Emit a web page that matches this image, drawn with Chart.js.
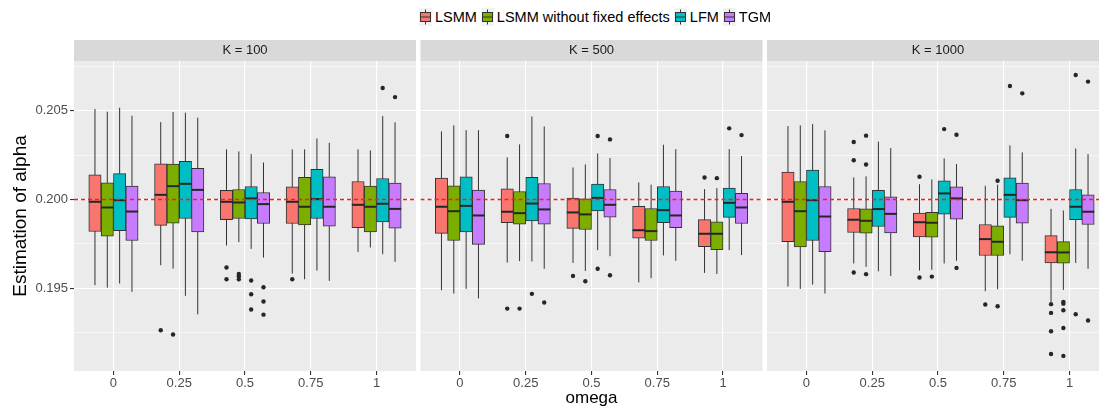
<!DOCTYPE html>
<html>
<head>
<meta charset="utf-8">
<script src="https://cdn.jsdelivr.net/npm/chart.js@4.4.1/dist/chart.umd.min.js"></script>
<style>
  html, body { margin: 0; padding: 0; width: 1099px; height: 409px; overflow: hidden; background: #ffffff;
    font-family: "Liberation Sans", Arial, sans-serif; }
  .panel { position: absolute; left: 0; top: 0; width: 1120px; height: 409px; }
  #legend { position: absolute; left: 0; top: 7px; width: 1190px; height: 19px; display: flex;
    justify-content: center; align-items: center; font-size: 14.5px; color: #000; white-space: nowrap; }
  #legend .item { display: flex; align-items: center; margin: 0 2px; }
  #legend canvas { margin-right: 3px; }
</style>
</head>
<body>
<div id="legend"></div>
<div class="panel"><canvas id="c0" width="1120" height="409"></canvas></div>
<div class="panel"><canvas id="c1" width="1120" height="409"></canvas></div>
<div class="panel"><canvas id="c2" width="1120" height="409"></canvas></div>
<script>
// ---- data -------------------------------------------------------------
const omegaLabels = ['0', '0.25', '0.5', '0.75', '1'];
const methods = ['LSMM', 'LSMM without fixed effects', 'LFM', 'TGM'];
const methodColors = ['#F8766D', '#7CAE00', '#00BFC4', '#C77CFF'];
const panelTitles = ['K = 100', 'K = 500', 'K = 1000'];
const yGrid = [0.1925, 0.195, 0.1975, 0.2, 0.2025, 0.205, 0.2075];
const yLabelled = [0.195, 0.2, 0.205];
const trueAlpha = 0.2;

// box summaries per omega: [lower whisker, Q1, median, Q3, upper whisker]
const k100LSMM   = [[0.19518,0.19820,0.19987,0.20139,0.20509],[0.19630,0.19854,0.20026,0.20201,0.20435],[0.19741,0.19887,0.19987,0.20051,0.20282],[0.19583,0.19865,0.19987,0.20071,0.20282],[0.19705,0.19842,0.19970,0.20101,0.20282]];
const k100LSMMnf = [[0.19504,0.19794,0.19955,0.20094,0.20494],[0.19611,0.19867,0.20075,0.20199,0.20492],[0.19760,0.19893,0.19983,0.20056,0.20270],[0.19551,0.19857,0.19959,0.20124,0.20282],[0.19730,0.19818,0.19959,0.20075,0.20276]];
const k100LFM    = [[0.19527,0.19825,0.19996,0.20145,0.20516],[0.19458,0.19893,0.20088,0.20214,0.20488],[0.19722,0.19891,0.20006,0.20073,0.20255],[0.19600,0.19893,0.20002,0.20169,0.20343],[0.19692,0.19874,0.19976,0.20118,0.20469]];
const k100TGM    = [[0.19480,0.19769,0.19932,0.20075,0.20471],[0.19354,0.19818,0.20054,0.20175,0.20460],[0.19673,0.19865,0.19974,0.20039,0.20208],[0.19542,0.19850,0.19959,0.20128,0.20319],[0.19649,0.19839,0.19947,0.20092,0.20434]];

const k500LSMM   = [[0.19489,0.19809,0.19959,0.20120,0.20383],[0.19645,0.19869,0.19931,0.20060,0.20237],[0.19643,0.19837,0.19927,0.20008,0.20180],[0.19533,0.19782,0.19827,0.19961,0.20096],[0.19587,0.19735,0.19807,0.19887,0.20058]];
const k500LSMMnf = [[0.19471,0.19769,0.19934,0.20077,0.20417],[0.19653,0.19861,0.19923,0.20045,0.20310],[0.19598,0.19831,0.19916,0.20004,0.20197],[0.19557,0.19769,0.19822,0.19949,0.20083],[0.19581,0.19717,0.19807,0.19874,0.20064]];
const k500LFM    = [[0.19497,0.19818,0.19964,0.20128,0.20390],[0.19651,0.19880,0.19977,0.20124,0.20467],[0.19715,0.19936,0.20009,0.20086,0.20259],[0.19685,0.19869,0.19940,0.20073,0.20308],[0.19715,0.19899,0.19981,0.20064,0.20283]];
const k500TGM    = [[0.19444,0.19747,0.19910,0.20053,0.20390],[0.19610,0.19861,0.19944,0.20090,0.20411],[0.19681,0.19901,0.19970,0.20056,0.20233],[0.19655,0.19842,0.19910,0.20047,0.20283],[0.19687,0.19865,0.19955,0.20034,0.20244]];

const k1000LSMM   = [[0.19510,0.19762,0.19987,0.20154,0.20413],[0.19640,0.19814,0.19886,0.19949,0.20124],[0.19600,0.19790,0.19872,0.19923,0.20086],[0.19484,0.19685,0.19777,0.19859,0.20077],[0.19424,0.19643,0.19703,0.19797,0.19947]];
const k1000LSMMnf = [[0.19497,0.19733,0.19934,0.20101,0.20417],[0.19621,0.19810,0.19880,0.19947,0.20130],[0.19604,0.19788,0.19869,0.19927,0.20113],[0.19495,0.19685,0.19762,0.19852,0.20083],[0.19491,0.19642,0.19702,0.19763,0.19938]];
const k1000LFM    = [[0.19521,0.19769,0.19996,0.20165,0.20424],[0.19596,0.19848,0.19946,0.20051,0.20325],[0.19640,0.19917,0.20034,0.20105,0.20231],[0.19692,0.19899,0.20026,0.20122,0.20304],[0.19643,0.19887,0.19959,0.20056,0.20287]];
const k1000TGM    = [[0.19471,0.19707,0.19904,0.20073,0.20389],[0.19570,0.19812,0.19919,0.20015,0.20289],[0.19655,0.19889,0.20006,0.20071,0.20199],[0.19655,0.19867,0.19996,0.20092,0.20265],[0.19610,0.19859,0.19931,0.20026,0.20255]];

// outlying estimates per omega
const k100LSMMOut   = [[], [0.19264], [0.19617, 0.19551], [0.19551], []];
const k100LSMMnfOut = [[], [0.19240], [0.19581, 0.19568, 0.19551], [], []];
const k100LFMOut    = [[], [], [0.19544, 0.19467, 0.19381], [], [0.20627]];
const k100TGMOut    = [[], [], [0.19506, 0.19426, 0.19352], [], [0.20576]];

const k500LSMMOut   = [[], [0.20357, 0.19386], [0.19570], [], [0.20124]];
const k500LSMMnfOut = [[], [0.19386], [0.19540], [], [0.20120]];
const k500LFMOut    = [[], [0.19469], [0.20357, 0.19610], [], [0.20400]];
const k500TGMOut    = [[], [0.19420], [0.20338, 0.19574], [], [0.20362]];

const k1000LSMMOut   = [[], [0.20323, 0.20221, 0.19589], [0.20128, 0.19561], [0.19409], [0.19411, 0.19362, 0.19259, 0.19131]];
const k1000LSMMnfOut = [[], [0.20359, 0.20197, 0.19580], [0.19566], [0.20105, 0.19399], [0.19424, 0.19414, 0.19377, 0.19277, 0.19120]];
const k1000LFMOut    = [[], [], [0.20396], [0.20638], [0.20700, 0.19354]];
const k1000TGMOut    = [[], [], [0.20364, 0.19615], [0.20597], [0.20663, 0.19319]];

const panelBoxes = [
  [k100LSMM, k100LSMMnf, k100LFM, k100TGM],
  [k500LSMM, k500LSMMnf, k500LFM, k500TGM],
  [k1000LSMM, k1000LSMMnf, k1000LFM, k1000TGM]
];
const panelOutliers = [
  [k100LSMMOut, k100LSMMnfOut, k100LFMOut, k100TGMOut],
  [k500LSMMOut, k500LSMMnfOut, k500LFMOut, k500TGMOut],
  [k1000LSMMOut, k1000LSMMnfOut, k1000LFMOut, k1000TGMOut]
];

// ---- layout -----------------------------------------------------------
const CANVAS_W = 1120;
const panelLeft = [74, 420.5, 767];
const panelRight = [416, 762.5, 1109];
const X_MIN = 0.4, X_MAX = 5.6;          // discrete axis with 0.6 expansion
const Y_MIN = 0.19035, Y_MAX = 0.20779;
const DODGE = 0.75 / methods.length;     // width of one box in category units
const dodgeOffset = methods.map((_, m) => (m - (methods.length - 1) / 2) * DODGE);
const REF_COLOR = '#FF1A1A';

Chart.defaults.font.family = '"Liberation Sans", Arial, sans-serif';

const isLabelled = v => yLabelled.some(t => Math.abs(t - v) < 1e-9);

// panel background, facet strip, whiskers and medians
const boxplotPlugin = {
  id: 'boxplotParts',
  beforeDraw(chart) {
    const { ctx, chartArea: a } = chart;
    const t = chart.titleBlock;
    ctx.save();
    ctx.fillStyle = '#EBEBEB';
    ctx.fillRect(a.left, a.top, a.width, a.height);
    ctx.fillStyle = '#D9D9D9';
    ctx.fillRect(a.left, t.top, a.width, t.height);
    ctx.restore();
  },
  beforeDatasetDraw(chart, args) {
    const ds = chart.data.datasets[args.index];
    if (!ds.stats) return;
    const { ctx } = chart;
    const xs = chart.scales.x, ys = chart.scales.y;
    ctx.save();
    ctx.strokeStyle = '#333333';
    ctx.lineWidth = 1;
    ds.stats.forEach((s, j) => {
      const px = xs.getPixelForValue(ds.data[j].x);
      ctx.beginPath();
      ctx.moveTo(px, ys.getPixelForValue(s[0]));
      ctx.lineTo(px, ys.getPixelForValue(s[4]));
      ctx.stroke();
    });
    ctx.restore();
  },
  afterDatasetDraw(chart, args) {
    const ds = chart.data.datasets[args.index];
    if (!ds.stats) return;
    const { ctx } = chart;
    const ys = chart.scales.y;
    ctx.save();
    ctx.strokeStyle = '#262626';
    ctx.lineWidth = 2;
    args.meta.data.forEach((el, j) => {
      const py = ys.getPixelForValue(ds.stats[j][2]);
      ctx.beginPath();
      ctx.moveTo(el.x - el.width / 2, py);
      ctx.lineTo(el.x + el.width / 2, py);
      ctx.stroke();
    });
    ctx.restore();
  }
};

function buildDatasets(p) {
  const sets = [];
  methods.forEach((name, m) => {
    const stats = panelBoxes[p][m];
    sets.push({
      type: 'bar',
      label: name,
      stats: stats,
      data: stats.map((s, j) => ({ x: j + 1 + dodgeOffset[m], y: [s[1], s[3]] })),
      backgroundColor: methodColors[m],
      borderColor: '#333333',
      borderWidth: 1,
      borderSkipped: false,
      grouped: false,
      categoryPercentage: 1,
      barPercentage: 1,
      order: 2
    });
  });
  methods.forEach((name, m) => {
    const pts = [];
    panelOutliers[p][m].forEach((vals, j) => vals.forEach(v => pts.push({ x: j + 1 + dodgeOffset[m], y: v })));
    sets.push({
      type: 'scatter',
      label: name + ' outliers',
      data: pts,
      pointRadius: 2.2,
      pointBackgroundColor: '#262626',
      pointBorderColor: '#262626',
      pointBorderWidth: 0,
      order: 1
    });
  });
  sets.push({
    type: 'line',
    label: 'true alpha',
    data: [{ x: X_MIN, y: trueAlpha }, { x: X_MAX, y: trueAlpha }],
    borderColor: REF_COLOR,
    backgroundColor: REF_COLOR,
    borderWidth: 1.6,
    borderDash: [4, 3],
    pointRadius: 0,
    fill: false,
    order: 0
  });
  return sets;
}

function makePanel(p) {
  const first = p === 0;
  new Chart(document.getElementById('c' + p), {
    type: 'bar',
    data: { datasets: buildDatasets(p) },
    plugins: [boxplotPlugin],
    options: {
      responsive: false,
      devicePixelRatio: 1,
      animation: false,
      events: [],
      layout: { padding: { left: first ? 0 : panelLeft[p], right: CANVAS_W - panelRight[p], top: 40, bottom: 0 } },
      plugins: {
        legend: { display: false },
        tooltip: { enabled: false },
        title: {
          display: true,
          text: panelTitles[p],
          color: '#1A1A1A',
          fullSize: false,
          font: { size: 13, weight: 'normal', lineHeight: 1 },
          padding: { top: 4, bottom: 4 }
        }
      },
      scales: {
        x: {
          type: 'linear',
          min: X_MIN,
          max: X_MAX,
          offset: false,
          afterBuildTicks: s => { s.ticks = omegaLabels.map((_, i) => ({ value: i + 1 })); },
          afterFit: s => { s.height = 38; },
          ticks: {
            callback: (v, i) => omegaLabels[i],
            color: '#4D4D4D',
            font: { size: 13 },
            padding: 1,
            maxRotation: 0,
            autoSkip: false
          },
          grid: { color: '#FFFFFF', lineWidth: 1.1, offset: false, drawTicks: true, tickLength: 4, tickColor: '#333333' },
          border: { display: false },
          title: {
            display: p === 1,
            text: 'omega',
            color: '#000000',
            font: { size: 17 },
            padding: { top: 0, bottom: 0 }
          }
        },
        y: {
          type: 'linear',
          min: Y_MIN,
          max: Y_MAX,
          afterBuildTicks: s => { s.ticks = yGrid.map(v => ({ value: v })); },
          afterFit: s => { s.width = first ? panelLeft[0] : 0; },
          ticks: {
            display: first,
            callback: v => (isLabelled(v) ? v.toFixed(3) : ''),
            color: '#4D4D4D',
            font: { size: 13 },
            padding: 2
          },
          grid: {
            color: '#FFFFFF',
            lineWidth: c => (c.tick && isLabelled(c.tick.value) ? 1.1 : 0.55),
            drawTicks: first,
            tickLength: 4,
            tickColor: c => (c.tick && isLabelled(c.tick.value) ? '#333333' : 'rgba(0,0,0,0)')
          },
          border: { display: false },
          title: {
            display: first,
            text: 'Estimation of alpha',
            color: '#000000',
            font: { size: 19 },
            padding: { top: 9, bottom: 0 }
          }
        }
      }
    }
  });
}

[0, 1, 2].forEach(makePanel);

// legend with boxplot keys
const legend = document.getElementById('legend');
methods.forEach((name, m) => {
  const item = document.createElement('div');
  item.className = 'item';
  const key = document.createElement('canvas');
  key.width = 13; key.height = 18;
  const k = key.getContext('2d');
  k.fillStyle = '#F2F2F2';
  k.fillRect(0, 0, 13, 18);
  k.strokeStyle = '#333333';
  k.lineWidth = 1;
  k.beginPath(); k.moveTo(6.5, 1.5); k.lineTo(6.5, 16.5); k.stroke();
  k.fillStyle = methodColors[m];
  k.fillRect(1.5, 4.5, 10, 9);
  k.strokeRect(1.5, 4.5, 10, 9);
  k.beginPath(); k.moveTo(1.5, 9); k.lineTo(11.5, 9); k.stroke();
  const label = document.createElement('span');
  label.textContent = name;
  item.appendChild(key);
  item.appendChild(label);
  legend.appendChild(item);
});
</script>
</body>
</html>
